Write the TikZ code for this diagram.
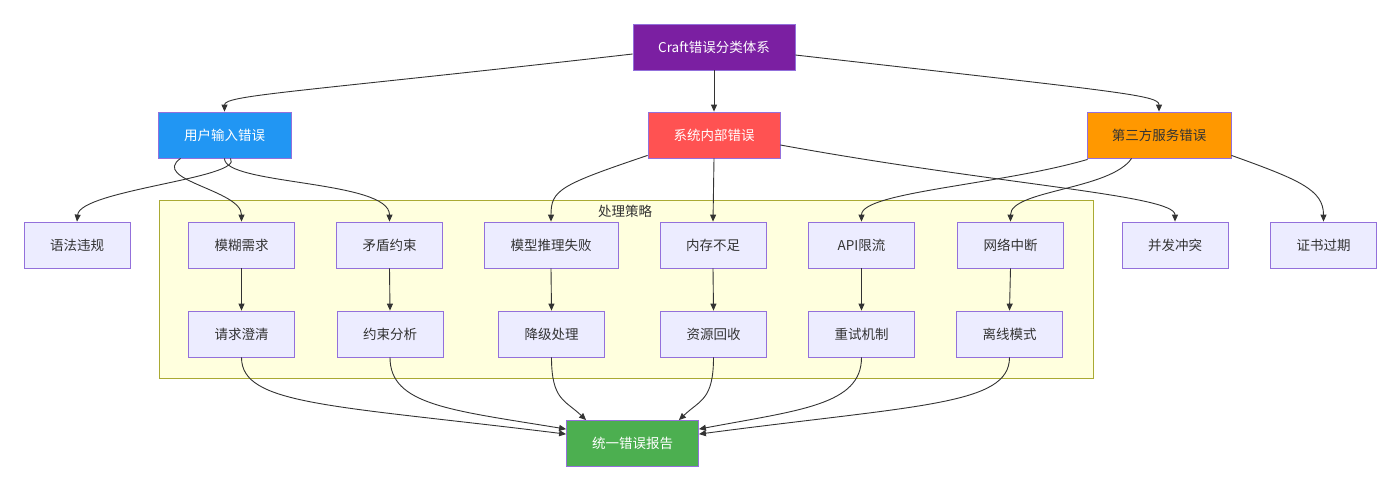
\documentclass[tikz,border=0pt]{standalone}
\usepackage{fontspec}
\setmainfont{Noto Sans CJK SC}
\usetikzlibrary{arrows.meta,calc}
\definecolor{edgec}{HTML}{333333}
\definecolor{lightfill}{HTML}{ECECFF}
\definecolor{lightdraw}{HTML}{9370DB}
\definecolor{clusterfill}{HTML}{FFFFDE}
\definecolor{clusterdraw}{HTML}{AAAA33}
\definecolor{rootc}{HTML}{7B1FA2}
\definecolor{userc}{HTML}{2196F3}
\definecolor{sysc}{HTML}{FF5252}
\definecolor{thirdc}{HTML}{FF9800}
\definecolor{greenc}{HTML}{4CAF50}
\tikzset{
  box/.style={draw=lightdraw, line width=0.8pt, minimum height=46pt, inner sep=0pt,
    font=\fontsize{13.5}{16}\selectfont},
  leaf/.style={box, fill=lightfill, text=edgec, minimum width=106pt},
  conn/.style={draw=edgec, line width=0.9pt, -{Triangle[length=7pt,width=6pt]}},
}
\begin{document}
\begin{tikzpicture}[x=1pt,y=-1pt]
\useasboundingbox[fill=white] (0,0) rectangle (1400,491);
% cluster
\node[draw=clusterdraw, fill=clusterfill, line width=0.8pt, minimum width=934pt, minimum height=178pt, inner sep=0pt] (cl) at (626,289) {};
\node[font=\fontsize{13.5}{16}\selectfont, text=edgec] (cllab) at (625,211) {处理策略};
% top
\node[box, fill=rootc, text=white, minimum width=162pt] (root) at (714,47) {Craft错误分类体系};
\node[box, fill=userc, text=white, minimum width=133pt] (u) at (224.5,135) {用户输入错误};
\node[box, fill=sysc, text=white, minimum width=132pt] (s) at (714,135) {系统内部错误};
\node[box, fill=thirdc, text=edgec, minimum width=144pt] (t) at (1159,135) {第三方服务错误};
% level 2
\node[leaf] (b1) at (77,245) {语法违规};
\node[leaf] (b2) at (241.5,245) {模糊需求};
\node[leaf] (b3) at (389.5,245) {矛盾约束};
\node[leaf, minimum width=134pt] (b4) at (551,245) {模型推理失败};
\node[leaf] (b5) at (713,245) {内存不足};
\node[leaf] (b6) at (861.5,245) {API限流};
\node[leaf] (b7) at (1010.5,245) {网络中断};
\node[leaf] (b8) at (1175,245) {并发冲突};
\node[leaf] (b9) at (1323.5,245) {证书过期};
% level 3
\node[leaf] (c1) at (241.5,334) {请求澄清};
\node[leaf] (c2) at (390,334) {约束分析};
\node[leaf] (c3) at (551.5,334) {降级处理};
\node[leaf] (c4) at (713.5,334) {资源回收};
\node[leaf] (c5) at (861.5,334) {重试机制};
\node[leaf] (c6) at (1009.5,334) {离线模式};
\node[box, fill=greenc, text=white, minimum width=132pt] (g) at (632.5,443.5) {统一错误报告};
% edges top
\draw[conn] ($(root.west)+(0,7)$) .. controls (300,92) and (224.5,95) .. (u.north);
\draw[conn] (root.south) -- (s.north);
\draw[conn] ($(root.east)+(0,8)$) .. controls (1120,92) and (1159,95) .. (t.north);
% from user
\draw[conn] ($(u.south)+(6,0)$) .. controls (245,178) and (80,190) .. (b1.north);
\draw[conn] ($(u.south west)+(23,0)$) .. controls (150,180) and (241.5,190) .. (b2.north);
\draw[conn] (u.south) .. controls (224,185) and (389.5,180) .. (b3.north);
% from system
\draw[conn] ($(s.south west)+(0,-3)$) .. controls (560,185) and (551,190) .. (b4.north);
\draw[conn] (s.south) -- (b5.north);
\draw[conn] ($(s.east)+(0,10)$) .. controls (1000,185) and (1175,195) .. (b8.north);
% from third party
\draw[conn] ($(t.south west)+(1,1)$) .. controls (1000,185) and (861.5,192) .. (b6.north);
\draw[conn] ($(t.south west)+(45,0)$) .. controls (1110,190) and (1010.5,190) .. (b7.north);
\draw[conn] ($(t.south east)+(0,-3)$) .. controls (1300,180) and (1323.5,190) .. (b9.north);
% level 2 -> 3
\draw[conn] (b2.south) -- (c1.north);
\draw[conn] (b3.south) -- (c2.north);
\draw[conn] (b4.south) -- (c3.north);
\draw[conn] (b5.south) -- (c4.north);
\draw[conn] (b6.south) -- (c5.north);
\draw[conn] (b7.south) -- (c6.north);
% level 3 -> report
\draw[conn] (c1.south) .. controls (241.5,405) and (330,405) .. ($(g.north west)+(0,14)$);
\draw[conn] (c2.south) .. controls (390,405) and (450,410) .. ($(g.north west)+(0,9)$);
\draw[conn] (c3.south) .. controls (551.5,400) and (565,400) .. ($(g.north west)+(20,0)$);
\draw[conn] (c4.south) .. controls (713.5,400) and (700,400) .. ($(g.north east)+(-20,0)$);
\draw[conn] (c5.south) .. controls (861.5,405) and (800,410) .. ($(g.north east)+(0,9)$);
\draw[conn] (c6.south) .. controls (1009.5,405) and (920,405) .. ($(g.north east)+(0,14)$);
\end{tikzpicture}
\end{document}
